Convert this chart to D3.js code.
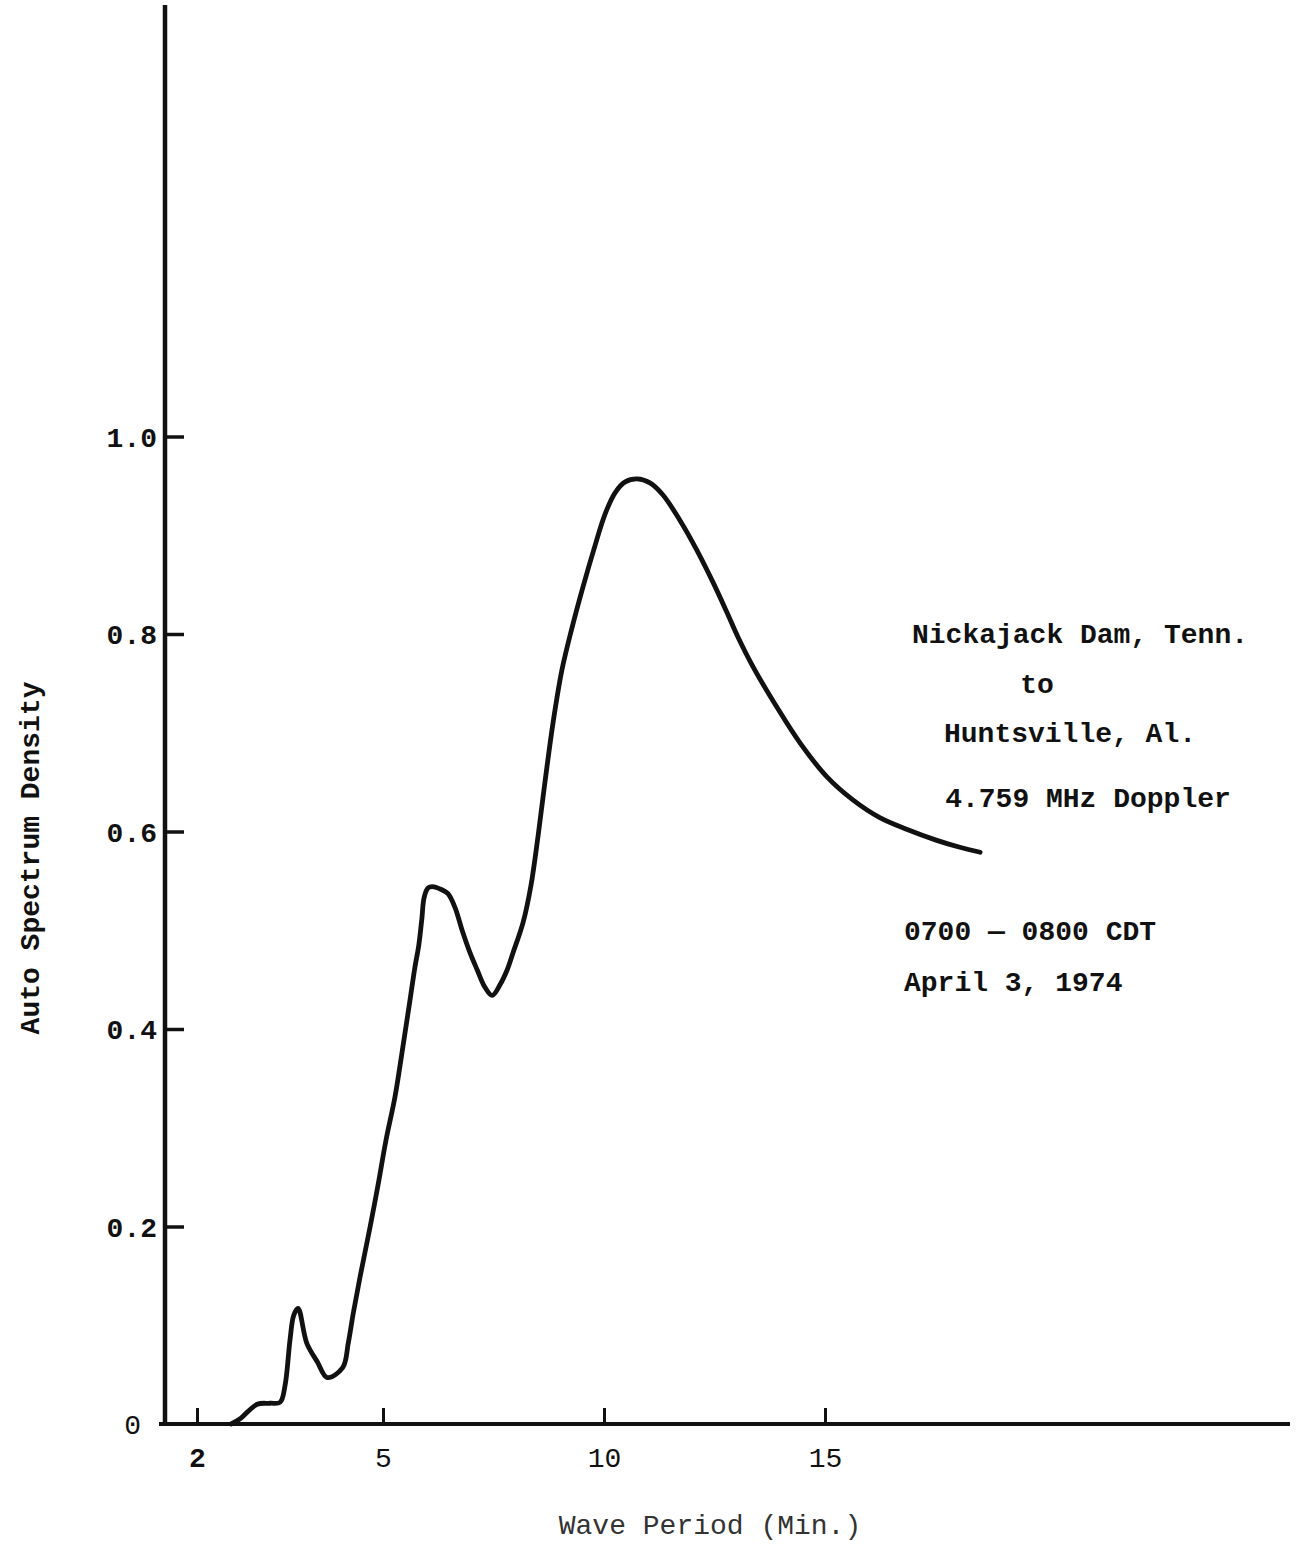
<!DOCTYPE html>
<html>
<head>
<meta charset="utf-8">
<script src="https://cdn.jsdelivr.net/npm/d3@7"></script>
<style>
  html, body { margin: 0; padding: 0; background: #fff; }
  svg { display: block; }
  text { font-family: "Liberation Mono", "DejaVu Sans Mono", monospace; fill: #111; }
</style>
</head>
<body>
<svg id="chart" width="1296" height="1545"></svg>
<script>
// Wave period (minutes) along the trace
const period = [2.55, 2.69, 2.97, 3.18, 3.34, 3.42, 3.50, 3.56, 3.63, 3.77, 3.94, 4.10, 4.35, 4.44,
  4.52, 4.63, 4.79, 4.92, 5.07, 5.27, 5.45, 5.61, 5.72, 5.81, 5.88, 5.93, 6.02, 6.15, 6.33,
  6.47, 6.63, 6.79, 6.97, 7.13, 7.31, 7.47, 7.65, 7.81, 7.94, 8.17, 8.35, 8.51, 8.67, 8.85,
  9.05, 9.28, 9.52, 9.80, 10.02, 10.25, 10.48, 10.75, 11.04, 11.33, 11.72, 12.10, 12.47,
  12.78, 13.03, 13.37, 13.91, 14.43, 15.05, 15.63, 16.24, 16.86, 17.53, 18.05, 18.51];

// Auto spectrum density at each period
const density = [0.000, 0.005, 0.020, 0.021, 0.022, 0.039, 0.085, 0.110, 0.117, 0.082, 0.063, 0.047, 0.057, 0.082,
  0.112, 0.149, 0.199, 0.242, 0.288, 0.331, 0.382, 0.429, 0.462, 0.485, 0.512, 0.533, 0.543, 0.544, 0.541,
  0.537, 0.523, 0.500, 0.477, 0.460, 0.442, 0.434, 0.445, 0.460, 0.477, 0.508, 0.546, 0.596, 0.652, 0.711,
  0.764, 0.807, 0.847, 0.890, 0.921, 0.943, 0.954, 0.957, 0.953, 0.941, 0.915, 0.885, 0.852,
  0.822, 0.797, 0.767, 0.726, 0.690, 0.655, 0.632, 0.614, 0.602, 0.591, 0.584, 0.579];

// Axis ticks
const xTicks = [2, 5, 10, 15];
const xTickLabels = ["2", "5", "10", "15"];
const yTicks = [0, 0.2, 0.4, 0.6, 0.8, 1.0];
const yTickLabels = ["0", "0.2", "0.4", "0.6", "0.8", "1.0"];

// Annotation block
const siteLines = ["Nickajack Dam, Tenn.", "to", "Huntsville, Al.", "4.759 MHz Doppler"];
const timeLines = ["0700 \u2014 0800 CDT", "April 3, 1974"];

const xTitle = "Wave Period (Min.)";
const yTitle = "Auto Spectrum Density";

const svg = d3.select("#chart");

// Period axis is hand-spaced: piecewise linear between the labelled ticks
const x = d3.scaleLinear().domain(xTicks).range([197, 383, 604, 825]);
const y = d3.scaleLinear().domain([0, 1]).range([1424, 436.5]);

const axisX0 = 165;   // vertical axis position
const axisY0 = 1424;  // horizontal axis position

// Axis lines
svg.append("line")
  .attr("x1", axisX0).attr("x2", axisX0)
  .attr("y1", 5).attr("y2", axisY0 + 1)
  .attr("stroke", "#111").attr("stroke-width", 4.5);
svg.append("line")
  .attr("x1", 159).attr("x2", 1290)
  .attr("y1", axisY0).attr("y2", axisY0)
  .attr("stroke", "#111").attr("stroke-width", 4);

// Y axis ticks point inward
const yAxis = d3.axisLeft(y)
  .tickValues(yTicks)
  .tickFormat((d, i) => yTickLabels[i])
  .tickSizeInner(-19)
  .tickSizeOuter(0)
  .tickPadding(8);

const gy = svg.append("g")
  .attr("transform", `translate(${axisX0},0)`)
  .call(yAxis);
gy.select(".domain").remove();
gy.selectAll(".tick line").attr("stroke", "#111").attr("stroke-width", 3.5);
gy.selectAll(".tick text")
  .attr("font-family", "'Liberation Mono', monospace")
  .attr("font-size", 28)
  .attr("font-weight", (d) => d === 0 ? "normal" : "bold")
  .attr("fill", "#111")
  .attr("dy", "0.35em");
gy.selectAll(".tick").filter(d => d === 0).select("line").remove();
gy.selectAll(".tick").filter(d => d === 0).select("text").attr("x", -24);

// X axis ticks point upward
const xAxis = d3.axisBottom(x)
  .tickValues(xTicks)
  .tickFormat((d, i) => xTickLabels[i])
  .tickSizeInner(-16)
  .tickSizeOuter(0)
  .tickPadding(23);

const gx = svg.append("g")
  .attr("transform", `translate(0,${axisY0})`)
  .call(xAxis);
gx.select(".domain").remove();
gx.selectAll(".tick line").attr("stroke", "#111").attr("stroke-width", 3);
gx.selectAll(".tick text")
  .attr("font-family", "'Liberation Mono', monospace")
  .attr("font-size", 28)
  .attr("font-weight", (d) => d === 2 ? "bold" : "normal")
  .attr("fill", "#111");

// Spectrum trace
const pts = period.map((p, i) => [p, density[i]]);
const line = d3.line()
  .x(d => x(d[0]))
  .y(d => y(d[1]))
  .curve(d3.curveCatmullRom.alpha(0.5));

svg.append("path")
  .datum(pts)
  .attr("d", line)
  .attr("fill", "none")
  .attr("stroke", "#111")
  .attr("stroke-width", 4.8)
  .attr("stroke-linejoin", "round")
  .attr("stroke-linecap", "round");

// Annotation text
const siteY = [643, 693, 742, 807];
const siteX = [1080, 1037, 1070, 1088];
svg.append("g").selectAll("text")
  .data(siteLines)
  .join("text")
  .attr("x", (d, i) => siteX[i])
  .attr("y", (d, i) => siteY[i])
  .attr("text-anchor", "middle")
  .attr("font-size", 28)
  .attr("font-weight", "bold")
  .text(d => d);

svg.append("g").selectAll("text")
  .data(timeLines)
  .join("text")
  .attr("x", 904)
  .attr("y", (d, i) => [940, 991][i])
  .attr("font-size", 28)
  .attr("font-weight", "bold")
  .text(d => d);

// Axis titles
svg.append("text")
  .attr("x", 710)
  .attr("y", 1534)
  .attr("text-anchor", "middle")
  .attr("font-size", 28)
  .style("fill", "#333")
  .text(xTitle);

svg.append("text")
  .attr("transform", "translate(39,858) rotate(-90)")
  .attr("text-anchor", "middle")
  .attr("font-size", 28)
  .attr("font-weight", "bold")
  .text(yTitle);
</script>
</body>
</html>
